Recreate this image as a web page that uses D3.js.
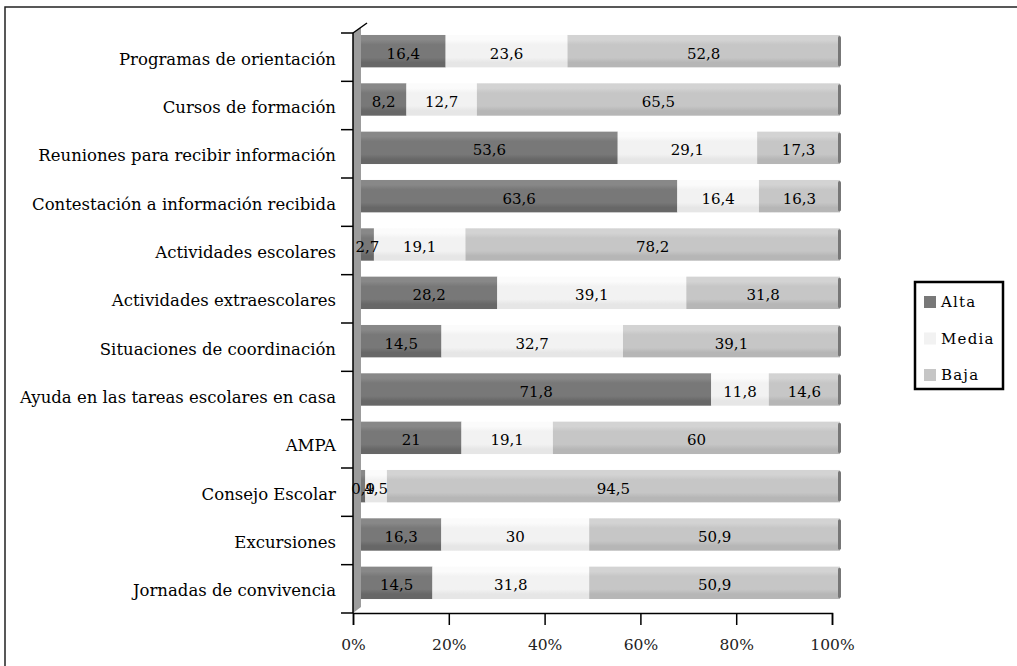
<!DOCTYPE html>
<html>
<head>
<meta charset="utf-8">
<script src="https://cdn.jsdelivr.net/npm/d3@7"></script>
<style>
  body { margin: 0; background: #fff; }
  svg { display: block; font-family: "DejaVu Serif", serif; }
</style>
</head>
<body>
<svg id="chart" width="1017" height="666"></svg>
<script>
const categories = [
  "Programas de orientación",
  "Cursos de formación",
  "Reuniones para recibir información",
  "Contestación a información recibida",
  "Actividades escolares",
  "Actividades extraescolares",
  "Situaciones de coordinación",
  "Ayuda en las tareas escolares en casa",
  "AMPA",
  "Consejo Escolar",
  "Excursiones",
  "Jornadas de convivencia"
];
const series = ["Alta", "Media", "Baja"];
const alta  = [16.4, 8.2, 53.6, 63.6, 2.7, 28.2, 14.5, 71.8, 21, 0.9, 16.3, 14.5];
const media = [23.6, 12.7, 29.1, 16.4, 19.1, 39.1, 32.7, 11.8, 19.1, 4.5, 30, 31.8];
const baja  = [52.8, 65.5, 17.3, 16.3, 78.2, 31.8, 39.1, 14.6, 60, 94.5, 50.9, 50.9];
const xTicks = [0, 20, 40, 60, 80, 100];

const rows = categories.map((c, i) => ({ cat: c, Alta: alta[i], Media: media[i], Baja: baja[i] }));

const svg = d3.select("#chart");
const margin = { top: 33, left: 353, right: 184, bottom: 53 };
const width = 1017, height = 666;
const depth = { dx: 8, dy: -6 };

// outer frame (only top/left visible)
svg.append("path")
  .attr("d", "M5,700 L5,7 L1030,7")
  .attr("fill", "none").attr("stroke", "#222").attr("stroke-width", 1.5);

const x = d3.scaleLinear().domain([0, 100]).range([margin.left, width - margin.right - 1]);
const y = d3.scaleBand().domain(categories).range([margin.top, height - margin.bottom])
  .paddingInner(0.33).paddingOuter(0.165);

const fills = {
  Alta: ["#888888", "#787878", "#676767"],
  Media: ["#fbfbfb", "#f2f2f2", "#e6e6e6"],
  Baja: ["#d3d3d3", "#c6c6c6", "#b6b6b6"]
};
const defs = svg.append("defs");
series.forEach(s => {
  const g = defs.append("linearGradient").attr("id", "g" + s)
    .attr("x1", 0).attr("y1", 0).attr("x2", 0).attr("y2", 1);
  [[0, 0], [0.15, 0], [0.3, 1], [0.7, 1], [0.85, 2], [1, 2]].forEach(([o, k]) =>
    g.append("stop").attr("offset", o).attr("stop-color", fills[s][k]));
});

// side wall
const y0 = margin.top, y1 = height - margin.bottom;
svg.append("path")
  .attr("d", `M${x(0)},${y0} L${x(0) + depth.dx},${y0 + depth.dy} L${x(0) + depth.dx},${y1 + depth.dy} L${x(0)},${y1} Z`)
  .attr("fill", "#9c9c9c");

const stack = d3.stack().keys(series).offset(d3.stackOffsetExpand);
const stacked = stack(rows);

const g = svg.append("g").attr("transform", `translate(${depth.dx},${depth.dy})`);
stacked.forEach(layer => {
  g.selectAll(null).data(layer).enter().append("rect")
    .attr("x", d => x(d[0] * 100))
    .attr("y", d => y(d.data.cat))
    .attr("width", d => x(d[1] * 100) - x(d[0] * 100))
    .attr("height", y.bandwidth())
    .attr("fill", `url(#g${layer.key})`);
});
// end caps
g.selectAll(null).data(rows).enter().append("rect")
  .attr("x", x(100) - 2).attr("y", d => y(d.cat) + 1)
  .attr("width", 3).attr("height", y.bandwidth() - 2)
  .attr("rx", 1.5).attr("fill", "#777");

// value labels
stacked.forEach(layer => {
  g.selectAll(null).data(layer).enter().append("text")
    .attr("x", d => x((d[0] + d[1]) * 50))
    .attr("y", d => y(d.data.cat) + y.bandwidth() / 2)
    .attr("dy", "0.5em")
    .attr("text-anchor", "middle")
    .attr("font-size", 15)
    .attr("fill", "#000")
    .text(d => String(d.data[layer.key]).replace(".", ","));
});

// y axis: labels at centers, ticks at band borders
const yAxis = svg.append("g").attr("transform", `translate(${x(0)},0)`)
  .call(d3.axisLeft(y).tickSize(0).tickPadding(17));
yAxis.select(".domain").remove();
yAxis.selectAll("text").attr("font-size", 16.5).attr("fill", "#000")
  .attr("font-family", "DejaVu Serif").attr("dy", "0.45em");

const borders = d3.range(categories.length + 1).map(i => margin.top + i * y.step());
svg.selectAll(null).data(borders).enter().append("line")
  .attr("x1", x(0) - 12).attr("x2", x(0))
  .attr("y1", d => d).attr("y2", d => d)
  .attr("stroke", "#000").attr("stroke-width", 1.5);
svg.append("line")
  .attr("x1", x(0)).attr("x2", x(0)).attr("y1", y0).attr("y2", y1)
  .attr("stroke", "#000").attr("stroke-width", 1.5);
svg.append("line")
  .attr("x1", x(0)).attr("y1", y0).attr("x2", x(0) + 14).attr("y2", y0 - 10)
  .attr("stroke", "#000").attr("stroke-width", 1.5);

// x axis
const xAxis = svg.append("g").attr("transform", `translate(0,${y1})`)
  .call(d3.axisBottom(x).tickValues(xTicks).tickFormat(d => d + "%").tickSize(12).tickPadding(14));
xAxis.select(".domain").attr("stroke-width", 1.5);
xAxis.selectAll("line").attr("stroke-width", 1.5);
xAxis.selectAll("text").attr("font-size", 15.5).attr("fill", "#222").attr("font-family", "DejaVu Serif");

// legend
const leg = svg.append("g").attr("transform", "translate(915,282)");
leg.append("rect").attr("width", 88).attr("height", 107)
  .attr("fill", "#fff").attr("stroke", "#000").attr("stroke-width", 2.5);
const legY = d3.scalePoint().domain(series).range([20, 93]);
series.forEach(s => {
  leg.append("rect").attr("x", 9).attr("y", legY(s) - 6).attr("width", 12).attr("height", 12)
    .attr("fill", fills[s][1]);
  leg.append("text").attr("x", 26).attr("y", legY(s)).attr("dy", "0.35em")
    .attr("font-size", 15).attr("letter-spacing", 1.2).attr("fill", "#000").text(s);
});
</script>
</body>
</html>
